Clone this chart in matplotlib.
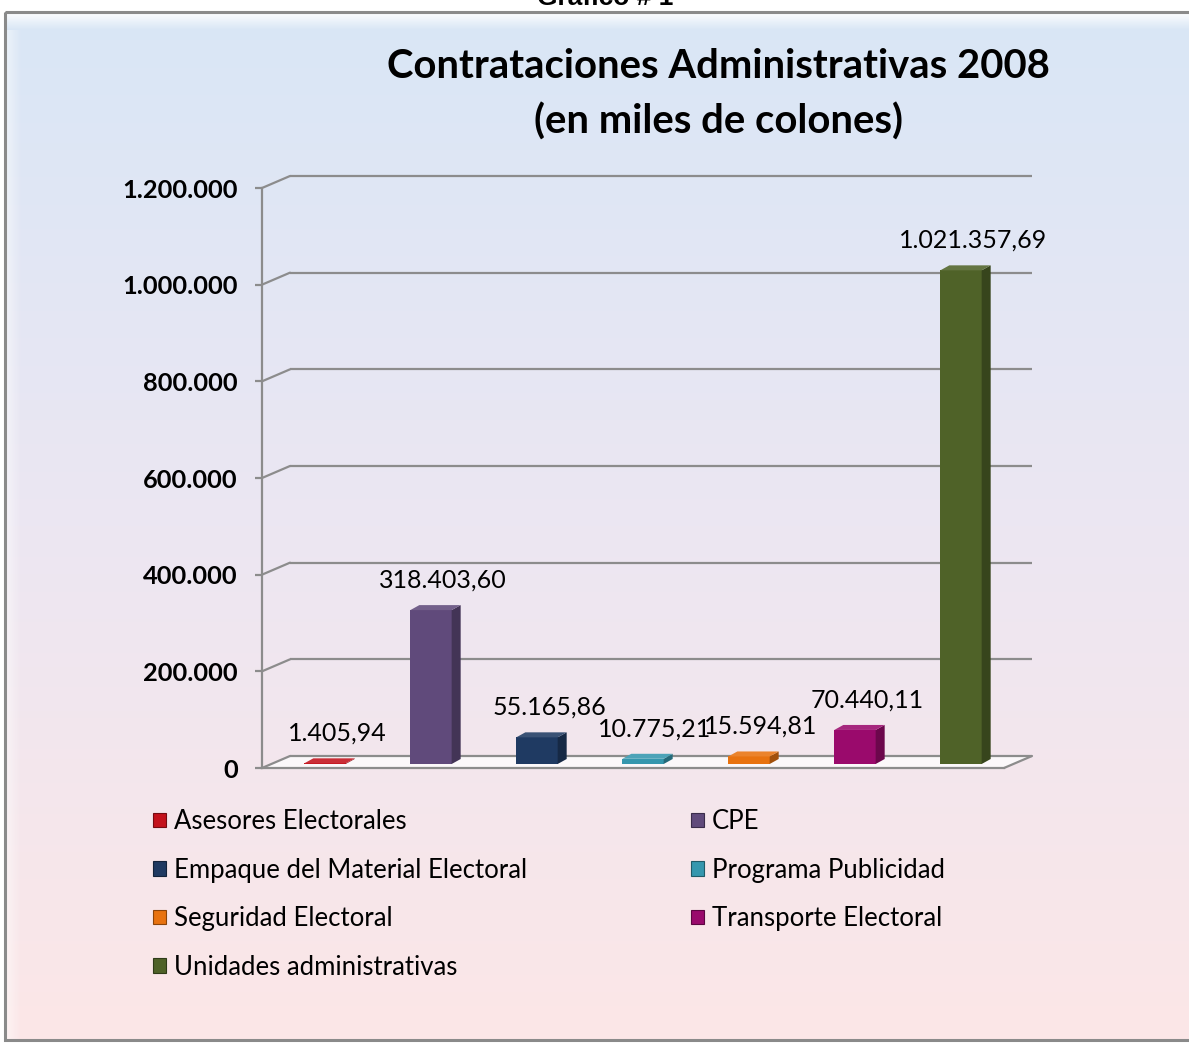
import numpy as np
import matplotlib
matplotlib.use('Agg')
import matplotlib.pyplot as plt
from matplotlib.transforms import ScaledTranslation, IdentityTransform
from matplotlib.patches import Polygon, Rectangle, Patch
from matplotlib.colors import to_rgb
from matplotlib.ticker import FuncFormatter

plt.rcParams['font.family'] = ['Lato', 'DejaVu Sans']

# ---------------- data ----------------
categories = ['Asesores Electorales', 'CPE', 'Empaque del Material Electoral',
              'Programa Publicidad', 'Seguridad Electoral', 'Transporte Electoral',
              'Unidades administrativas']
values = [1405.94, 318403.60, 55165.86, 10775.21, 15594.81, 70440.11, 1021357.69]
y_ticks = [0, 200000, 400000, 600000, 800000, 1000000, 1200000]
colors = ['#c3121c', '#604a7b', '#1f3a62', '#3597ae', '#e8720f', '#9a0a6c', '#4f6228']
title_lines = ['Contrataciones Administrativas 2008', '(en miles de colones)']
header = 'Gráfico # 1'


def fmt_es(v, dec=2):
    s = f"{v:,.{dec}f}"
    return s.replace(',', '#').replace('.', ',').replace('#', '.')


def shade(c, f):
    r, g, b = to_rgb(c)
    if f <= 1:
        return (r * f, g * f, b * f)
    return (r + (1 - r) * (f - 1), g + (1 - g) * (f - 1), b + (1 - b) * (f - 1))


W, H = 1189, 1044
fig = plt.figure(figsize=(W / 100, H / 100), dpi=100)
fig.patch.set_facecolor('white')

# ---------------- background frame with gradient ----------------
bg = fig.add_axes([0, 0, 1, 1], zorder=-10)
bg.set_autoscale_on(False)
bg.set_xlim(0, W)
bg.set_ylim(H, 0)
bg.axis('off')
stops = np.array([[217, 230, 246], [236, 231, 242], [252, 230, 231]]) / 255.0
t = np.linspace(0, 1, 300)
grad = np.empty((300, 1, 3))
for k in range(3):
    grad[:, 0, k] = np.interp(t, [0, 0.5, 1], stops[:, k])
bg.imshow(grad, extent=(5, W, 1040, 13), aspect='auto', origin='upper', zorder=0)
# bevel highlight at top and left
hl = np.zeros((40, 1, 4))
hl[:, 0, :3] = 1
hl[:, 0, 3] = np.linspace(0.9, 0.0, 40)
bg.imshow(hl, extent=(6, W, 30, 13), aspect='auto', origin='upper', zorder=1)
hl2 = np.zeros((1, 40, 4))
hl2[0, :, :3] = 1
hl2[0, :, 3] = np.linspace(0.5, 0.0, 40)
bg.imshow(hl2, extent=(6, 22, 1040, 30), aspect='auto', origin='upper', zorder=1)
bg.add_patch(Rectangle((5, 12), W, 1028, fill=False, edgecolor='#8a8a8a',
                       lw=2.2, zorder=2))

# header (partially cut by the top edge, as in the source)
fig.text(605 / W, 1 - 5 / H, header, ha='center', va='baseline', fontsize=19,
         fontweight='bold', family=['Liberation Sans', 'DejaVu Sans'])

# title
fig.text(718 / W, 1 - 66 / H, title_lines[0], ha='center', va='center',
         fontsize=28.8, fontweight='bold', color='black')
fig.text(718 / W, 1 - 122 / H, title_lines[1], ha='center', va='center',
         fontsize=28.8, fontweight='bold', color='black')

# ---------------- main axes ----------------
gray = '#8c8c8c'
ax = fig.add_axes([262 / W, (H - 768) / H, 742 / W, 580 / H])
ax.set_autoscale_on(False)
ax.set_xlim(-0.5, 6.5)
ax.set_ylim(0, 1200000)
ax.patch.set_alpha(0)
for s in ['top', 'right']:
    ax.spines[s].set_visible(False)
ax.spines['left'].set_color(gray)
ax.spines['left'].set_linewidth(1.6)
ax.spines['bottom'].set_color(gray)
ax.spines['bottom'].set_linewidth(1.6)
ax.set_xticks([])
ax.set_yticks(y_ticks)
ax.yaxis.set_major_formatter(FuncFormatter(lambda v, p: fmt_es(v, 0)))
ax.tick_params(axis='y', length=5, width=1.6, color=gray, pad=12.5,
               labelsize=18.3)
for lab in ax.get_yticklabels():
    lab.set_fontweight('bold')

dpx, dpy = 28, 12
T_back = ax.transData + ScaledTranslation(dpx / 100, dpy / 100, fig.dpi_scale_trans)
T_bar = ax.transData + ScaledTranslation(10 / 100, 4 / 100, fig.dpi_scale_trans)

x0, x1 = ax.get_xlim()
# floor (drawn in the background layer, beneath the bars)
p1 = ax.transData.transform((x0, 0))
p2 = ax.transData.transform((x1, 0))
floor = Polygon([p1, p2, p2 + [dpx, dpy], p1 + [dpx, dpy]], closed=True,
                transform=IdentityTransform(), facecolor='white', alpha=0.75,
                edgecolor='none', zorder=3)
bg.add_patch(floor)

# back wall grid lines
for v in y_ticks:
    ax.plot([x0, x1], [v, v], transform=T_back, color=gray, lw=1.6,
            clip_on=False, zorder=1, solid_capstyle='butt')
    ax.annotate('', xy=(x0, v), xytext=(dpx, dpy), textcoords='offset pixels',
                arrowprops=dict(arrowstyle='-', color=gray, lw=1.6,
                                shrinkA=0, shrinkB=0), zorder=1,
                annotation_clip=False)
ax.annotate('', xy=(x1, 0), xytext=(dpx, dpy), textcoords='offset pixels',
            arrowprops=dict(arrowstyle='-', color=gray, lw=1.6,
                            shrinkA=0, shrinkB=0), zorder=1,
            annotation_clip=False)

# bars
x = np.arange(len(categories))
bars = ax.bar(x, values, width=0.39, color=colors, transform=T_bar, zorder=3,
              clip_on=False, edgecolor='none')
ddx, ddy = 9, 5
for r, c in zip(bars, colors):
    bx0, bx1 = r.get_x(), r.get_x() + r.get_width()
    h = r.get_height()
    BR = T_bar.transform((bx1, 0))
    TR = T_bar.transform((bx1, h))
    TL = T_bar.transform((bx0, h))
    d = np.array([ddx, ddy])
    side = Polygon([BR, TR, TR + d, BR + d], closed=True,
                   transform=IdentityTransform(), facecolor=shade(c, 0.7),
                   edgecolor='none', zorder=2)
    top = Polygon([TL, TR, TR + d, TL + d], closed=True,
                  transform=IdentityTransform(), facecolor=shade(c, 1.12),
                  edgecolor='none', zorder=2)
    fig.add_artist(side)
    fig.add_artist(top)

# data labels
for xi, v in zip(x, values):
    ax.annotate(fmt_es(v, 2), xy=(xi, v), xycoords=T_bar, xytext=(12, 30),
                textcoords='offset pixels', ha='center', va='center',
                fontsize=18, color='black', annotation_clip=False, zorder=5)

# ---------------- legend ----------------
handles = [Patch(facecolor=c, edgecolor=shade(c, 0.6), lw=0.8) for c in colors]
col1 = [0, 2, 4, 6]
col2 = [1, 3, 5]
leg_kw = dict(loc='upper left', frameon=False, fontsize=18.5, handlelength=0.5,
              handleheight=0.5, handletextpad=0.3, labelspacing=0.92,
              borderpad=0, borderaxespad=0)
fig.legend([handles[i] for i in col1], [categories[i] for i in col1],
           bbox_to_anchor=(153 / W, 1 - 809 / H), **leg_kw)
fig.legend([handles[i] for i in col2], [categories[i] for i in col2],
           bbox_to_anchor=(691 / W, 1 - 809 / H), **leg_kw)

fig.savefig('out.png', dpi=100)
